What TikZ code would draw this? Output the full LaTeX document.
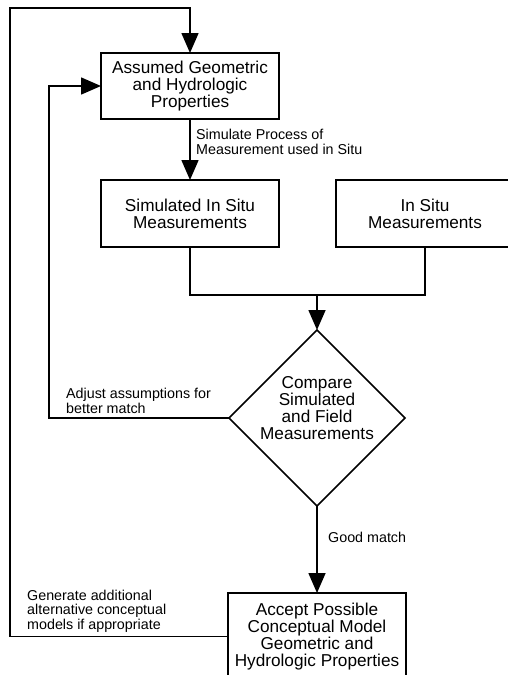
\documentclass[tikz,border=0pt]{standalone}
\usepackage{fontspec}
\setmainfont{Liberation Sans}
\usetikzlibrary{shapes.geometric, positioning, arrows.meta}

\begin{document}
\begin{tikzpicture}[x=1pt, y=-1pt]
  \newcommand\boxminwidth{178pt}
  \newcommand\boxfont{\fontsize{17.2}{17.2}\selectfont}
  \newcommand\labelfont{\fontsize{14.3}{14.6}\selectfont}

  \tikzset{mainbox/.style={draw, line width=1.6pt, align=center, inner sep=2pt, outer sep=0pt, minimum width=\boxminwidth, font=\boxfont}}
  \tikzset{decision/.style={draw, diamond, line width=1.6pt, inner sep=0pt, outer sep=0pt, minimum width=176pt, minimum height=176pt}}
  \tikzset{boxtext/.style={align=center, inner sep=0pt, font=\boxfont}}
  \tikzset{steplabel/.style={align=left, anchor=west, inner sep=0pt, font=\labelfont}}
  \tikzset{flow/.style={line width=1.6pt, -{Triangle[length=20pt, width=17pt]}}}
  \tikzset{plain/.style={line width=1.6pt}}

  \useasboundingbox (0,0) rectangle (508,675);

  \node[mainbox, minimum height=66pt] at (190, 86) (assumed) {Assumed Geometric\\and Hydrologic\\Properties};
  \node[mainbox, minimum height=67pt, below=61pt of assumed] (simulated) {Simulated In Situ\\Measurements};
  \node[mainbox, minimum height=67pt, right=57pt of simulated] (insitu) {In Situ\\Measurements};

  \coordinate (merge) at (317, 295);
  \node[decision, below=35pt of merge] (compare) {};
  \node[boxtext, yshift=10pt] at (compare) (comparetext) {Compare\\Simulated\\and Field\\Measurements};
  \node[mainbox, minimum height=87pt, below=87pt of compare] (accept) {Accept Possible\\Conceptual Model\\Geometric and\\Hydrologic Properties};

  \coordinate (outer) at (10, 8);
  \coordinate (inner) at (49, 86);

  \draw[flow] (assumed) -- (simulated);
  \draw[plain] (simulated.south) |- (merge) -| (insitu.south);
  \draw[flow] (merge) -- (compare.north);
  \draw[flow] (compare.south) -- (accept.north);
  \draw[flow] (compare.west) -| (inner |- assumed.west) -- (assumed.west);
  \draw[flow] (accept.west) -| (outer) -| (assumed.north);

  \node[steplabel] at (196, 142) (simlabel) {Simulate Process of\\Measurement used in Situ};
  \node[steplabel] at (66, 401) (adjustlabel) {Adjust assumptions for\\better match};
  \node[steplabel] at (328, 537) (goodlabel) {Good match};
  \node[steplabel] at (27, 611) (generatelabel) {Generate additional\\alternative conceptual\\models if appropriate};
\end{tikzpicture}
\end{document}
